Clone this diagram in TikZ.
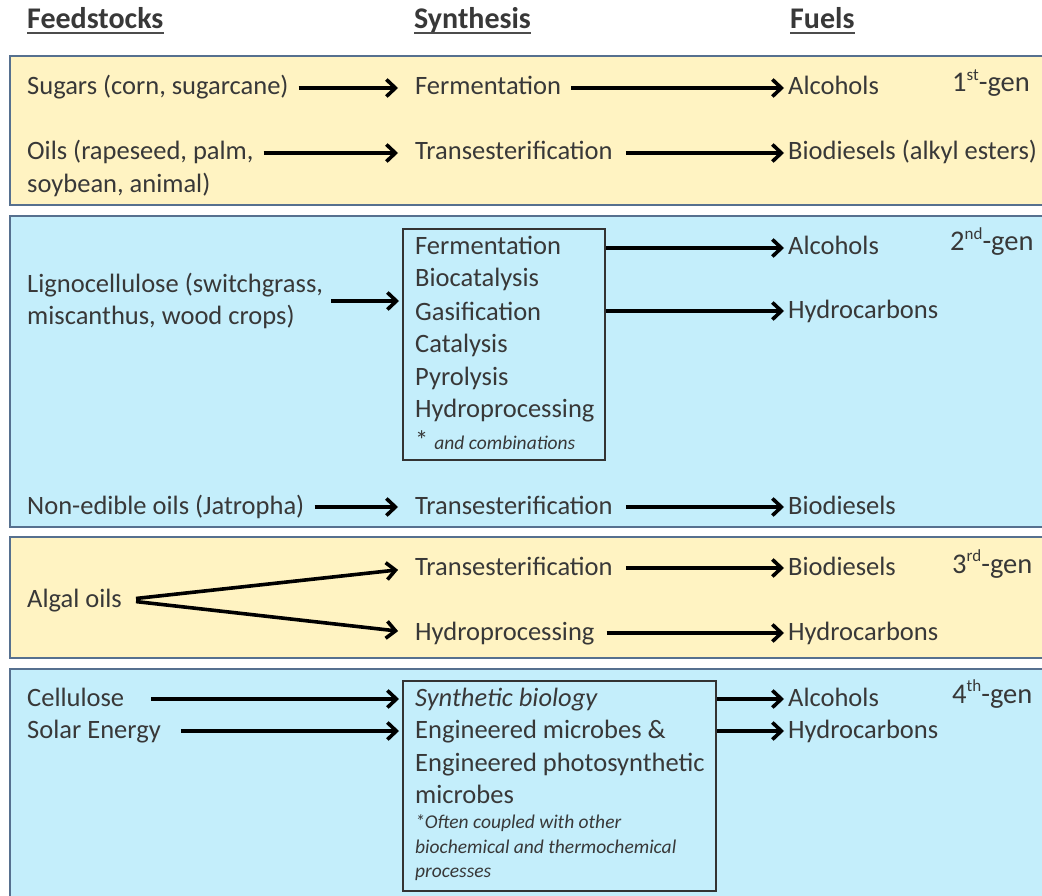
\documentclass[tikz,border=0pt]{standalone}
\usepackage{fontspec}
\setmainfont{Carlito}
\usetikzlibrary{arrows.meta}
\definecolor{txt}{HTML}{383838}
\definecolor{genyellow}{HTML}{FFF3C2}
\definecolor{genblue}{HTML}{C4EEFB}
\definecolor{frame}{HTML}{56708F}
\newcommand\gensup[1]{\raisebox{0.42em}{\fontsize{17}{17}\selectfont #1}}

\begin{document}
\begin{tikzpicture}[x=1pt,y=-1pt,
  lbl/.style={anchor=west, inner sep=0pt, text height=19pt, text depth=5pt,
              text=txt, font=\fontsize{26.5}{32.5}\selectfont},
  multi/.style={anchor=west, inner sep=0pt, align=left, text=txt,
              font=\fontsize{26.5}{32.5}\selectfont},
  note/.style={anchor=west, inner sep=0pt, text height=14pt, text depth=4pt,
              text=txt, font=\fontsize{19.5}{24}\selectfont\itshape},
  gen/.style={anchor=west, inner sep=0pt, text height=19pt, text depth=5pt,
              text=txt, font=\fontsize{28.5}{32}\selectfont},
  head/.style={anchor=base west, inner sep=0pt, text height=21pt, text depth=4pt,
              text=txt, font=\fontsize{30}{34}\selectfont\bfseries},
  band/.style={draw=frame, line width=2.5pt},
  procbox/.style={draw=black!80, line width=2pt, inner sep=0pt, anchor=north west},
  flow/.style={line width=3.6pt, -{Straight Barb[length=9pt,width=17pt]}, shorten <=10pt},
  tosyn/.style={flow, shorten >=17pt},
  tofuel/.style={flow, shorten >=4pt},
  frombox/.style={flow, shorten <=0pt, shorten >=4pt},
  intobox/.style={flow, shorten >=3pt},
]
\useasboundingbox (0,0) rectangle (1042,896);
\fill[white] (0,0) rectangle (1042,896);

% generation bands
\path[band, fill=genyellow] (10,56)  rectangle (1056,205);
\path[band, fill=genblue]   (10,216) rectangle (1056,527);
\path[band, fill=genyellow] (10,537) rectangle (1056,658);
\path[band, fill=genblue]   (10,669) rectangle (1056,910);

% column headings
\node[head] (hfeed) at (27,29)  {Feedstocks};
\node[head] (hsyn)  at (414,29) {Synthesis};
\node[head] (hfuel) at (790,29) {Fuels};
\foreach \h in {hfeed,hsyn,hfuel}
  \draw[black!70, line width=2.4pt] (\h.south west) -- (\h.south east);

% 1st generation
\node[lbl] (sug)   at (27,88)  {Sugars (corn, sugarcane)};
\node[lbl] (oilsA) at (27,153) {Oils (rapeseed, palm,};
\node[lbl] (oilsB) at (27,186) {soybean, animal)};
\node[lbl] (fer1)  at (415,88)  {Fermentation};
\node[lbl] (tr1)   at (415,153) {Transesterification};
\node[lbl] (alc1)  at (788,88)  {Alcohols};
\node[lbl] (bio1)  at (788,153) {Biodiesels (alkyl esters)};
\node[gen] (gen1)  at (952,85)  {1\gensup{st}-gen};
\draw[tosyn]  (sug.east)   -- (fer1.west);
\draw[tosyn]  (oilsA.east) -- (tr1.west);
\draw[tofuel] (fer1.east)  -- (alc1.west);
\draw[tofuel, shorten <=13pt] (tr1.east) -- (bio1.west);

% 2nd generation
\node[multi] (lig) at (27,301) {Lignocellulose (switchgrass,\\miscanthus, wood crops)};
\node[procbox, minimum width=202pt, minimum height=231pt] (box2) at (402,228) {};
\node[lbl] (p1) at (415,248) {Fermentation};
\node[lbl] (p2) at (415,280) {Biocatalysis};
\node[lbl] (p3) at (415,313) {Gasification};
\node[lbl] (p4) at (415,345) {Catalysis};
\node[lbl] (p5) at (415,378) {Pyrolysis};
\node[lbl] (p6) at (415,410) {Hydroprocessing};
\node[lbl] (p7) at (415,442) {* {\fontsize{19.5}{24}\selectfont\itshape and combinations}};
\node[lbl] (alc2) at (788,248) {Alcohols};
\node[lbl] (hyd2) at (788,311) {Hydrocarbons};
\node[gen] (gen2) at (950,244) {2\gensup{nd}-gen};
\draw[intobox, shorten <=8pt] (lig.east) -- (lig.east -| box2.west);
\draw[frombox] (alc2.west -| box2.east) -- (alc2.west);
\draw[frombox] (hyd2.west -| box2.east) -- (hyd2.west);

\node[lbl] (neo) at (27,507)  {Non-edible oils (Jatropha)};
\node[lbl] (tr2) at (415,507) {Transesterification};
\node[lbl] (bio2) at (788,507) {Biodiesels};
\draw[tosyn] (neo.east) -- (tr2.west);
\draw[tofuel, shorten <=13pt] (tr2.east) -- (bio2.west);

% 3rd generation
\node[lbl] (algal) at (27,600)  {Algal oils};
\node[lbl] (tr3)   at (415,568) {Transesterification};
\node[lbl] (hp3)   at (415,633) {Hydroprocessing};
\node[lbl] (bio3)  at (788,568) {Biodiesels};
\node[lbl] (hyd3)  at (788,633) {Hydrocarbons};
\node[gen] (gen3)  at (952,566) {3\gensup{rd}-gen};
\draw[tosyn, shorten <=14pt] (algal.east) -- (tr3.west);
\draw[tosyn, shorten <=14pt] (algal.east) -- (hp3.west);
\draw[tofuel, shorten <=13pt] (tr3.east) -- (bio3.west);
\draw[tofuel, shorten <=12pt] (hp3.east) -- (hyd3.west);

% 4th generation
\node[lbl] (cell)  at (27,699) {Cellulose};
\node[lbl] (solar) at (27,731) {Solar Energy};
\node[procbox, minimum width=313pt, minimum height=210pt] (box4) at (402,680) {};
\node[lbl] (s1) at (415,699) {\itshape Synthetic biology};
\node[lbl] (s2) at (415,731) {Engineered microbes \&};
\node[lbl] (s3) at (415,764) {Engineered photosynthetic};
\node[lbl] (s4) at (415,796) {microbes};
\node[note] (s5) at (415,823) {*Often coupled with other};
\node[note] (s6) at (415,848) {biochemical and thermochemical};
\node[note] (s7) at (415,872) {processes};
\node[lbl] (alc4) at (788,699) {Alcohols};
\node[lbl] (hyd4) at (788,731) {Hydrocarbons};
\node[gen] (gen4) at (952,696) {4\gensup{th}-gen};
\draw[intobox, shorten <=27pt] (cell.east)  -- (cell.east -| box4.west);
\draw[intobox, shorten <=20pt] (solar.east) -- (solar.east -| box4.west);
\draw[frombox] (alc4.west -| box4.east) -- (alc4.west);
\draw[frombox] (hyd4.west -| box4.east) -- (hyd4.west);
\end{tikzpicture}
\end{document}
